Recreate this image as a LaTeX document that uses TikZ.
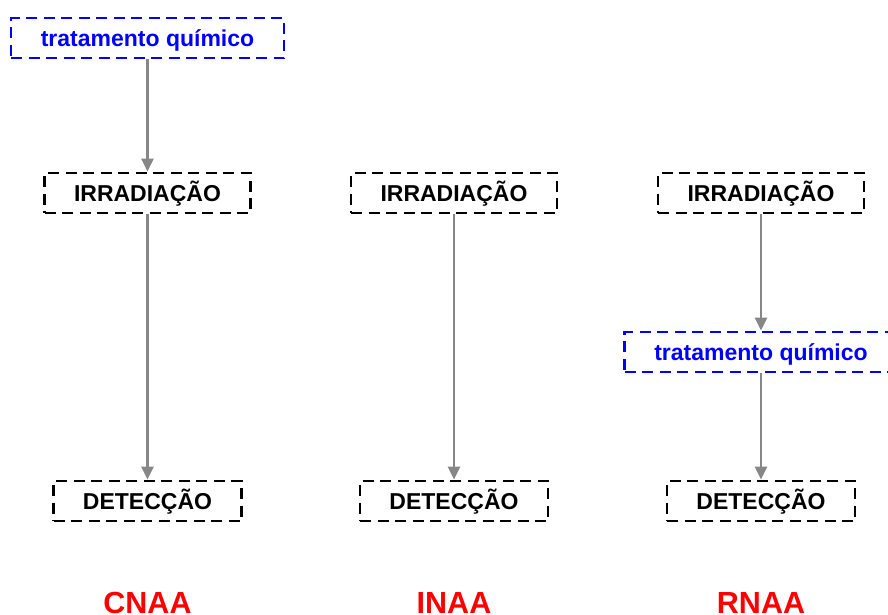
\documentclass[tikz,border=0pt]{standalone}
\usepackage{fontspec}
\setmainfont{Liberation Sans}
\usetikzlibrary{arrows.meta}
\definecolor{boxblue}{RGB}{0,0,255}
\definecolor{labred}{RGB}{255,0,0}
\definecolor{arrgray}{RGB}{135,135,135}
\tikzset{
  dbox/.style={draw=black, line width=2.8pt, dash pattern=on 11pt off 6.5pt, inner sep=0pt,
    minimum height=40pt, text height=16pt, text depth=0pt,
    font=\fontsize{23}{26}\selectfont\bfseries, text=black},
  bbox/.style={dbox, draw=boxblue, text=boxblue, minimum width=273pt},
  ibox/.style={dbox, minimum width=206pt},
  detbox/.style={dbox, minimum width=188pt},
  conn/.style={draw=arrgray, line width=2.8pt, -{Triangle[length=13pt,width=12pt]}},
  methlabel/.style={anchor=base, text=labred, font=\fontsize{30.5}{34}\selectfont\bfseries, inner sep=0pt}
}
\begin{document}
\begin{tikzpicture}[x=1pt,y=-1pt]
\useasboundingbox (0,0) rectangle (888,614);
\clip (0,0) rectangle (888,614);
% CNAA
\node[bbox] (t1) at (147.5,38) {tratamento químico};
\node[ibox] (i1) at (147.5,193) {IRRADIAÇÃO};
\node[detbox] (d1) at (147.5,501) {DETECÇÃO};
\node[methlabel] (l1) at (147.5,613) {CNAA};
% INAA
\node[ibox] (i2) at (454,193) {IRRADIAÇÃO};
\node[detbox] (d2) at (454,501) {DETECÇÃO};
\node[methlabel] (l2) at (454,613) {INAA};
% RNAA
\node[ibox] (i3) at (761,193) {IRRADIAÇÃO};
\node[bbox] (t3) at (761,352) {tratamento químico};
\node[detbox] (d3) at (761,501) {DETECÇÃO};
\node[methlabel] (l3) at (761,613) {RNAA};
% connectors
\draw[conn] (t1.south) -- (i1.north);
\draw[conn] (i1.south) -- (d1.north);
\draw[conn] (i2.south) -- (d2.north);
\draw[conn] (i3.south) -- (t3.north);
\draw[conn] (t3.south) -- (d3.north);
\end{tikzpicture}
\end{document}
